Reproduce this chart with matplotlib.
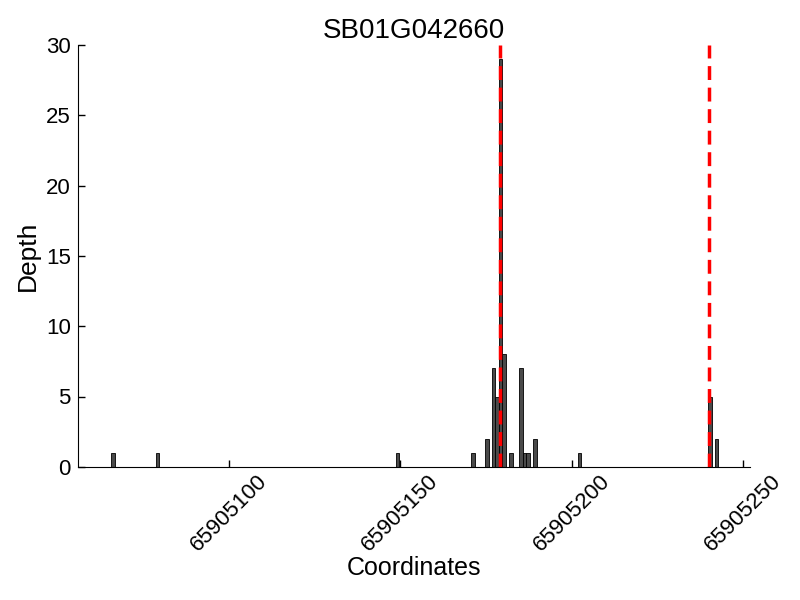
import numpy as np
import matplotlib
matplotlib.use('Agg')
import matplotlib.pyplot as plt

gene = 'SB01G042660'
offset = 65905000
positions = [66, 79, 149, 171, 175, 177, 178, 179, 180, 182, 185, 186, 187, 189, 202, 240, 242]
depths = [1, 1, 1, 1, 2, 7, 5, 29, 8, 1, 7, 1, 1, 2, 1, 5, 2]
sites = [179, 240]
xticks = [65905100, 65905150, 65905200, 65905250]

plt.rcParams['font.family'] = ['Liberation Sans', 'DejaVu Sans']

def plot():
    x = np.array(positions) + offset
    fig = plt.figure(figsize=(8, 6), dpi=100)
    ax = fig.add_axes([0.097, 0.222, 0.8405, 0.703])

    ax.bar(x - 0.2, depths, width=1.0, align='edge', color='#4a4a4a', edgecolor='black', linewidth=0.6)
    for s in sites:
        ax.axvline(s + offset, color='red', linestyle='--', linewidth=2.5, dashes=(4, 2.2))

    ax.set_xlim(x.min() - 10, x.max() + 10)
    ax.set_ylim(0, 30)
    ax.set_xticks(xticks)
    ax.set_xticklabels([str(t) for t in xticks], rotation=45, fontsize=16)
    ax.set_yticks(range(0, 31, 5))
    ax.tick_params(axis='y', labelsize=16)
    ax.tick_params(direction='in', length=5, width=1, top=False, right=False, pad=5)
    ax.tick_params(axis='x', pad=3)
    ax.spines['top'].set_visible(False)
    ax.spines['right'].set_visible(False)

    ax.set_title(gene, fontsize=20, pad=5)
    ax.set_xlabel('Coordinates', fontsize=18, labelpad=0)
    ax.set_ylabel('Depth', fontsize=19, labelpad=4)

    fig.savefig('out.png', dpi=100)

if __name__ == '__main__':
    plot()
